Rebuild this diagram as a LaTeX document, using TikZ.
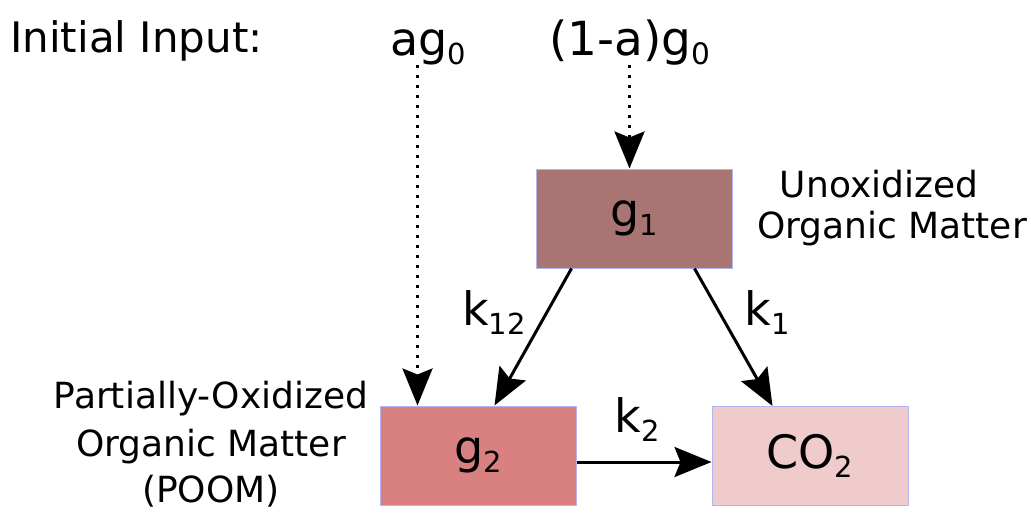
\documentclass[tikz,border=0pt]{standalone}
\usepackage{fontspec}
\setmainfont{DejaVu Sans}
\usepackage{graphicx}
\usetikzlibrary{arrows.meta}
\newcommand\lo[1]{\raisebox{-0.2em}{\scalebox{0.63}{#1}}}
\definecolor{gone}{HTML}{A87572}
\definecolor{gtwo}{HTML}{D98080}
\definecolor{coc}{HTML}{EFCBCB}
\definecolor{boxline}{HTML}{B4B4F0}
\begin{document}
\begin{tikzpicture}[x=1pt,y=-1pt,
  box/.style={draw=boxline,line width=1pt,minimum width=196pt,minimum height=99pt,inner sep=0pt,font=\fontsize{46}{50}\selectfont},
  lbl/.style={anchor=base,inner sep=0pt,font=\fontsize{36}{40}\selectfont},
  big/.style={anchor=base,inner sep=0pt,font=\fontsize{46}{50}\selectfont},
  flow/.style={line width=3pt,-{Stealth[length=37pt,width=30pt,inset=6pt]}},
  dotflow/.style={flow,dash pattern=on 3pt off 7pt}]
\useasboundingbox (0,0) rectangle (1031,514);
\node[box,fill=gone] (g1) at (634,218.5) {g\lo{1}};
\node[box,fill=gtwo] (g2) at (478,455.5) {g\lo{2}};
\node[box,fill=coc] (co2) at (810,456) {CO\lo{2}};
\node[anchor=base west,inner sep=0pt,font=\fontsize{42}{46}\selectfont] (init) at (10,52) {Initial Input:};
\node[big] (ag0) at (428,55) {ag\lo{0}};
\node[big,font=\fontsize{47}{50}\selectfont] (ag1) at (630,55) {(1-a)g\lo{0}};
\coordinate (a2) at ([xshift=38pt]g2.north west);
\coordinate (a1) at ([xshift=94pt]g1.north west);
\draw[dotflow] (ag0.south -| a2) -- (a2);
\draw[dotflow] (ag1.south -| a1) -- (a1);
\draw[flow] ([xshift=36pt]g1.south west) -- ([xshift=115pt]g2.north west);
\draw[flow] ([xshift=159pt]g1.south west) -- ([xshift=61pt]co2.north west);
\draw[flow] (g2.east |- 0,462) -- (co2.west |- 0,462);
\node[big] (k12) at (494,325) {k\lo{12}};
\node[big] (k1) at (767,325) {k\lo{1}};
\node[big] (k2) at (637,432) {k\lo{2}};
\node[lbl] (p1) at (211,408) {Partially-Oxidized};
\node[lbl] (p2) at (211,456) {Organic Matter};
\node[lbl] (p3) at (211,502) {(POOM)};
\node[lbl] (u1) at (879,197) {Unoxidized};
\node[lbl] (u2) at (892,238) {Organic Matter};
\end{tikzpicture}
\end{document}
